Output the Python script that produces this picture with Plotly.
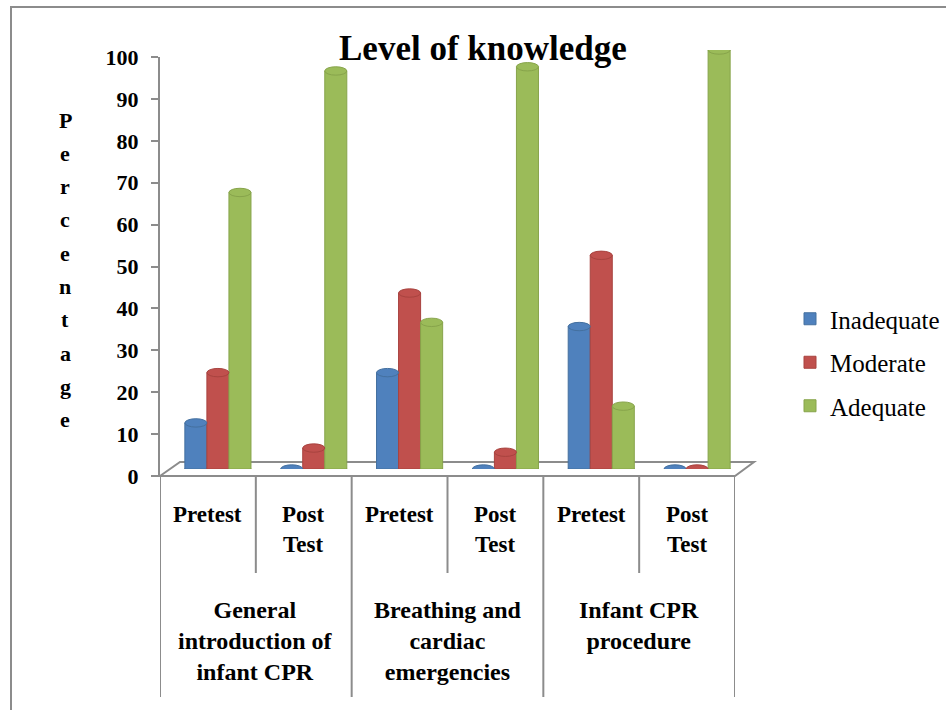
import plotly.graph_objects as go

W, H = 946, 710

# ---------------- data ----------------
groups = ["General<br>introduction of<br>infant CPR",
          "Breathing and<br>cardiac<br>emergencies",
          "Infant CPR<br>procedure"]
tests = ["Pretest", "Post<br>Test", "Pretest", "Post<br>Test", "Pretest", "Post<br>Test"]
series_names = ["Inadequate", "Moderate", "Adequate"]
inadequate = [11, 0, 23, 0, 34, 0]
moderate = [23, 5, 42, 4, 51, 0]
adequate = [66, 95, 35, 96, 15, 100]
y_ticks = [0, 10, 20, 30, 40, 50, 60, 70, 80, 90, 100]
title_text = "Level of knowledge"
y_title = "Percentage"

colors = ["#4F81BD", "#C0504D", "#9BBB59"]
edge = ["#44709F", "#A8433F", "#87A44B"]
FONT = "Times New Roman, Liberation Serif, serif"
GREY = "#8C8C8C"


def px(x):
    return x / W


def py(y):
    return 1 - y / H


xs = list(range(len(tests)))
fig = go.Figure()
all_vals = [inadequate, moderate, adequate]
for name, vals, c, e in zip(series_names, all_vals, colors, edge):
    fig.add_trace(go.Bar(
        x=xs, y=vals, name=name, marker=dict(color=c, line=dict(color=e, width=1)),
        legendgroup=name, xaxis="x", yaxis="y",
    ))

bargap = 0.31
groupw = 1 - bargap
bw = groupw / 3
shapes = []
# floor
shapes.append(dict(type="path", xref="paper", yref="paper",
                   path=f"M {px(160)},{py(476)} L {px(180)},{py(462)} L {px(754)},{py(462)} L {px(735)},{py(476)} Z",
                   line=dict(color=GREY, width=2), fillcolor="white", layer="below"))
# cylinder caps (top and bottom ellipses) derived from data
h = 1.0
for j, (vals, c, e) in enumerate(zip(all_vals, colors, edge)):
    for i, v in enumerate(vals):
        cx = i - groupw / 2 + bw * (j + 0.5)
        # bottom ellipse (below the bar body)
        shapes.append(dict(type="circle", xref="x", yref="y",
                           x0=cx - bw / 2, x1=cx + bw / 2, y0=-h, y1=h,
                           fillcolor=c, line=dict(color=e, width=1),
                           layer="above" if v == 0 else "below"))
        if v > 0:
            shapes.append(dict(type="circle", xref="x", yref="y",
                               x0=cx - bw / 2, x1=cx + bw / 2, y0=v - h, y1=v + h,
                               fillcolor=c, line=dict(color=e, width=1), layer="above"))
# dividers
for b in [-0.5, 1.5, 3.5, 5.5]:
    shapes.append(dict(type="line", xref="x2", yref="paper", x0=b, x1=b,
                       y0=py(476), y1=py(697), line=dict(color=GREY, width=2)))
for b in [0.5, 2.5, 4.5]:
    shapes.append(dict(type="line", xref="x2", yref="paper", x0=b, x1=b,
                       y0=py(476), y1=py(573), line=dict(color=GREY, width=2)))
# chart border
shapes.append(dict(type="rect", xref="paper", yref="paper",
                   x0=px(11), x1=px(960), y0=py(7), y1=py(730),
                   line=dict(color=GREY, width=2), fillcolor="rgba(0,0,0,0)", layer="below"))

annotations = []
annotations.append(dict(text=title_text, x=px(483), y=py(48), xref="paper", yref="paper",
                        showarrow=False, font=dict(family=FONT, size=35, color="black", weight="bold"),
                        xanchor="center", yanchor="middle"))
for k, ch in enumerate(y_title):
    annotations.append(dict(text=ch, x=px(65), y=py(120 + 33.3 * k), xref="paper", yref="paper",
                            showarrow=False, font=dict(family=FONT, size=22, color="black", weight="bold"),
                            xanchor="center", yanchor="middle"))
for i, t in enumerate(tests):
    annotations.append(dict(text=t, x=i, y=py(500), xref="x2", yref="paper", showarrow=False,
                            font=dict(family=FONT, size=23, color="black", weight="bold"),
                            xanchor="center", yanchor="top"))
for g, name in enumerate(groups):
    annotations.append(dict(text=name, x=2 * g + 0.5, y=py(595), xref="x2", yref="paper", showarrow=False,
                            font=dict(family=FONT, size=24, color="black", weight="bold"),
                            xanchor="center", yanchor="top"))

fig.update_layout(
    width=W, height=H, margin=dict(l=0, r=0, t=0, b=0, autoexpand=False),
    paper_bgcolor="white", plot_bgcolor="rgba(0,0,0,0)",
    barmode="group", bargap=bargap, bargroupgap=0,
    showlegend=True,
    legend=dict(x=px(790), y=py(296), xanchor="left", yanchor="top",
                font=dict(family=FONT, size=25, color="black"),
                tracegroupgap=8, bgcolor="rgba(0,0,0,0)"),
    xaxis=dict(domain=[px(170), px(745)], range=[-0.5, 5.5], visible=False, anchor="y",
               fixedrange=True, automargin=False),
    yaxis=dict(domain=[py(469), py(50)], range=[0, 100], visible=False, anchor="x",
               fixedrange=True, automargin=False),
    xaxis2=dict(domain=[px(160), px(735)], range=[-0.5, 5.5], anchor="y2", showline=False,
                showgrid=False, zeroline=False, showticklabels=False, ticks="", automargin=False),
    yaxis2=dict(domain=[py(476), py(57)], range=[0, 100], anchor="x2", showline=True,
                linecolor=GREY, linewidth=2, ticks="outside", ticklen=7, tickcolor=GREY,
                tickwidth=2, tickvals=y_ticks, showgrid=False, zeroline=False,
                ticklabelstandoff=8, automargin=False,
                tickfont=dict(family=FONT, size=22, color="black", weight="bold")),
    shapes=shapes, annotations=annotations,
)

fig.write_html("out.html")
